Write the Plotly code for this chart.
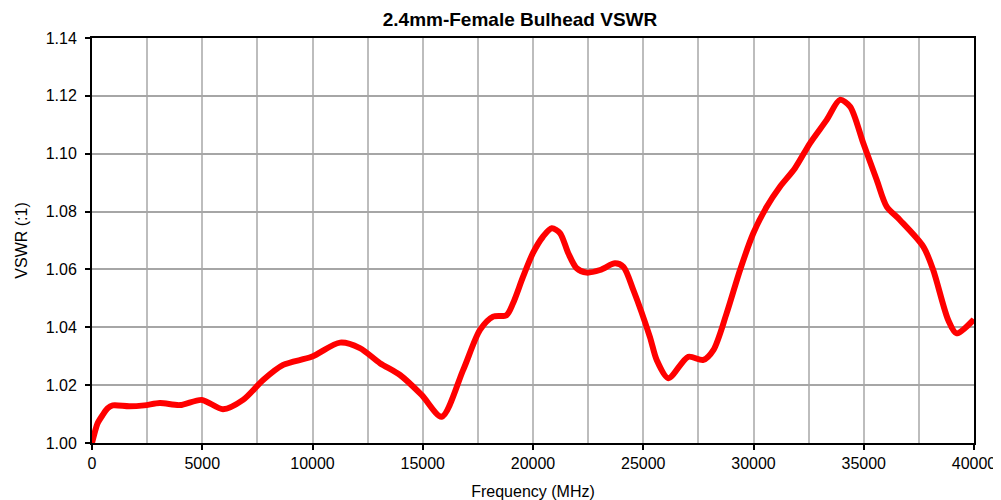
import plotly.graph_objects as go

freq_mhz = [0, 100, 260, 485, 710, 940, 1690, 2370, 3080, 3990, 4980, 5940, 6850, 7760,
            8670, 9960, 11250, 12150, 13060, 13970, 14950, 15860, 16830, 17596, 18190,
            18800, 19100, 19550, 20000, 20450, 20850, 21220, 21600, 21980, 22430, 23040,
            23720, 24100, 24550, 25300, 25610, 26140, 27040, 27720, 28180, 28780, 29390,
            29990, 30600, 31200, 31880, 32560, 33320, 33920, 34380, 34980, 35590, 36040,
            36640, 37700, 38150, 38830, 39210, 39970, 40000]
vswr = [1.000, 1.003, 1.0069, 1.0097, 1.0120, 1.0130, 1.0127, 1.0130, 1.0138, 1.0131,
        1.0149, 1.0117, 1.0149, 1.0218, 1.027, 1.0298, 1.0347, 1.0328, 1.0276, 1.0235,
        1.0166, 1.0091, 1.0252, 1.0391, 1.0437, 1.0442, 1.0484, 1.0575, 1.0657, 1.0713,
        1.0742, 1.0726, 1.0656, 1.0604, 1.0589, 1.0598, 1.0621, 1.0609, 1.0529, 1.0367,
        1.0287, 1.0224, 1.0298, 1.0287, 1.0321, 1.0448, 1.0598, 1.0725, 1.0817, 1.0886,
        1.0950, 1.1036, 1.1117, 1.1186, 1.1163, 1.1036, 1.0909, 1.0817, 1.0771, 1.0679,
        1.0598, 1.0425, 1.0379, 1.0425, 1.0428]

x_ticks = [0, 5000, 10000, 15000, 20000, 25000, 30000, 35000, 40000]
y_ticks = [1.00, 1.02, 1.04, 1.06, 1.08, 1.10, 1.12, 1.14]

fig = go.Figure()
fig.add_trace(go.Scatter(
    x=freq_mhz, y=vswr, mode="lines",
    line=dict(color="#ff0000", width=6, shape="spline", smoothing=0.8),
    showlegend=False, hoverinfo="x+y",
))

font = "Liberation Sans, Arial, sans-serif"
# page body has an 8px margin, so the figure is 8px smaller and margins compensate
fig.update_layout(
    width=993, height=492,
    margin=dict(l=84, r=27, t=30, b=57, autoexpand=False),
    paper_bgcolor="white", plot_bgcolor="white",
    font=dict(family=font, size=16, color="black"),
    title=dict(text="<b>2.4mm-Female Bulhead VSWR</b>", x=0.5156, xanchor="center",
               y=0.9766, yanchor="middle", font=dict(size=19, family=font, color="black")),
    xaxis=dict(
        range=[0, 40000], tickvals=x_ticks, ticktext=[str(v) for v in x_ticks],
        showgrid=True, gridcolor="#bdbdbd", gridwidth=2,
        minor=dict(dtick=2500, showgrid=True, gridcolor="#bdbdbd", gridwidth=2),
        showline=True, linecolor="black", linewidth=2, mirror=True,
        ticks="outside", ticklen=5, tickcolor="black", tickwidth=2,
        zeroline=False, automargin=False,
        title=dict(text="Frequency (MHz)", font=dict(size=16), standoff=15),
        tickfont=dict(size=16),
    ),
    yaxis=dict(
        range=[1.00, 1.14], tickvals=y_ticks, ticktext=[f"{v:.2f}" for v in y_ticks],
        showgrid=True, gridcolor="#a6a6a6", gridwidth=2,
        showline=True, linecolor="black", linewidth=2, mirror=True,
        ticks="outside", ticklen=5, tickcolor="black", tickwidth=2,
        ticklabelstandoff=5,
        zeroline=False, automargin=False,
        title=dict(text="VSWR (:1)", font=dict(size=16), standoff=14),
        tickfont=dict(size=16),
    ),
)

fig.write_html("out.html")
